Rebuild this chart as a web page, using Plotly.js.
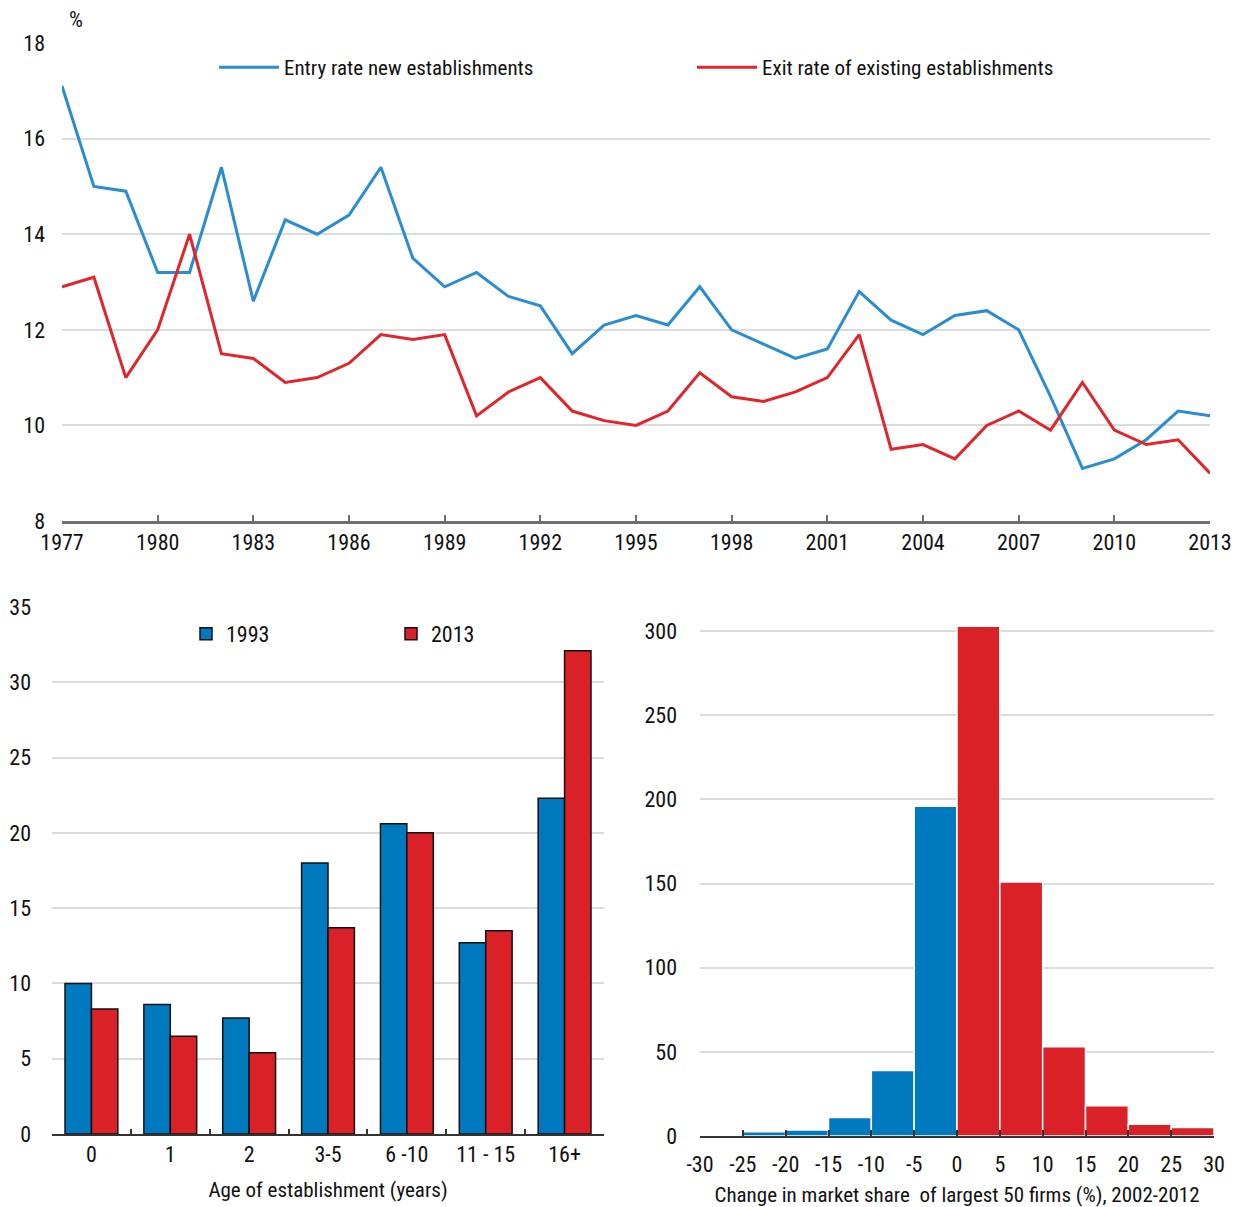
<!DOCTYPE html>
<html>
<head>
<meta charset="utf-8">
<script src="https://cdn.plot.ly/plotly-3.0.1.min.js"></script>
<style>html,body{margin:0;padding:0;background:#fff;}#chart{width:1241px;height:1207px;}</style>
</head>
<body>
<div id="chart"></div>
<script>
// Top panel: entry and exit rates (%)
const years = [1977,1978,1979,1980,1981,1982,1983,1984,1985,1986,1987,1988,1989,1990,1991,1992,1993,1994,1995,1996,1997,1998,1999,2000,2001,2002,2003,2004,2005,2006,2007,2008,2009,2010,2011,2012,2013];
const entryRate = [17.1,15.0,14.9,13.2,13.2,15.4,12.6,14.3,14.0,14.4,15.4,13.5,12.9,13.2,12.7,12.5,11.5,12.1,12.3,12.1,12.9,12.0,11.7,11.4,11.6,12.8,12.2,11.9,12.3,12.4,12.0,10.6,9.1,9.3,9.7,10.3,10.2];
const exitRate = [12.9,13.1,11.0,12.0,14.0,11.5,11.4,10.9,11.0,11.3,11.9,11.8,11.9,10.2,10.7,11.0,10.3,10.1,10.0,10.3,11.1,10.6,10.5,10.7,11.0,11.9,9.5,9.6,9.3,10.0,10.3,9.9,10.9,9.9,9.6,9.7,9.0];

// Bottom-left panel: share by age of establishment
const ageCategories = ['0','1','2','3-5','6 -10','11 - 15','16+'];
const share1993 = [10.0,8.6,7.7,18.0,20.6,12.7,22.3];
const share2013 = [8.3,6.5,5.4,13.7,20.0,13.5,32.1];

// Bottom-right panel: histogram of change in market share
const binStart = [-30,-25,-20,-15,-10,-5,0,5,10,15,20,25];
const binCount = [0,2.5,3.5,11,39,196,303,151,53,18,7,5];
const histTicks = [-30,-25,-20,-15,-10,-5,0,5,10,15,20,25,30];

const FONT = '"Roboto Condensed", "DejaVu Sans Condensed", sans-serif';
const BLUE_LINE = '#2a8dd0', RED_LINE = '#e0252d';
const BLUE = '#0079be', RED = '#da2128';
const GRID = '#dcdcdc', AXIS = '#6e6e6e';
const W = 1241, H = 1207;
const fx = p => p / W, fy = p => 1 - p / H;

const binWidth = 5;
const binCenters = binStart.map(s => s + binWidth / 2);
const binColors = binStart.map(s => s < 0 ? BLUE : RED);

const traces = [
  {x: years, y: entryRate, type: 'scatter', mode: 'lines', name: 'Entry rate new establishments',
   line: {color: BLUE_LINE, width: 3}, xaxis: 'x', yaxis: 'y', legend: 'legend'},
  {x: years, y: exitRate, type: 'scatter', mode: 'lines', name: 'Exit rate of existing establishments',
   line: {color: RED_LINE, width: 3}, xaxis: 'x', yaxis: 'y', legend: 'legend'},
  {x: ageCategories, y: share1993, type: 'bar', name: '1993',
   marker: {color: BLUE, line: {color: '#111', width: 1.5}}, xaxis: 'x2', yaxis: 'y2', legend: 'legend2'},
  {x: ageCategories, y: share2013, type: 'bar', name: '2013',
   marker: {color: RED, line: {color: '#111', width: 1.5}}, xaxis: 'x2', yaxis: 'y2', legend: 'legend2'},
  {x: binCenters, y: binCount, width: binStart.map(() => binWidth), type: 'bar', showlegend: false,
   marker: {color: binColors, line: {color: '#fff', width: 1.5}}, xaxis: 'x3', yaxis: 'y3'}
];

const tickFont = {family: FONT, size: 22, color: '#111'};
const titleFont = {family: FONT, size: 21, color: '#111'};

const layout = {
  width: W, height: H,
  margin: {l: 0, r: 0, t: 0, b: 0},
  paper_bgcolor: '#fff', plot_bgcolor: '#fff',
  font: {family: FONT, size: 22, color: '#111'},
  barmode: 'group', bargap: 0.33, bargroupgap: 0,
  showlegend: true,
  xaxis: {domain: [fx(62), fx(1210)], range: [1977, 2013], tickmode: 'linear', tick0: 1977, dtick: 3,
    ticks: 'inside', ticklen: 6, tickwidth: 2, tickcolor: AXIS, showline: true, linecolor: AXIS, linewidth: 3,
    showgrid: false, zeroline: false, tickfont: tickFont, tickangle: 0, anchor: 'y'},
  yaxis: {domain: [fy(521), fy(43)], range: [8, 18], dtick: 2, showgrid: true, gridcolor: GRID, gridwidth: 2,
    zeroline: false, showline: false, ticks: '', tickfont: tickFont, ticklabelstandoff: 16, anchor: 'x'},
  xaxis2: {domain: [fx(52), fx(604)], type: 'category', ticks: 'inside', tickson: 'boundaries', ticklen: 5,
    tickwidth: 2, tickcolor: '#333', showline: true, linecolor: '#333', linewidth: 2, showgrid: false,
    tickfont: tickFont, tickangle: 0, anchor: 'y2',
    title: {text: 'Age of establishment (years)', font: titleFont, standoff: 16}},
  yaxis2: {domain: [fy(1134), fy(607)], range: [0, 35], dtick: 5, showgrid: true, gridcolor: GRID, gridwidth: 2,
    zeroline: false, showline: false, ticks: '', tickfont: tickFont, ticklabelstandoff: 20, anchor: 'x2'},
  xaxis3: {domain: [fx(700), fx(1214)], range: [-30, 30], tickmode: 'array', tickvals: histTicks,
    ticktext: histTicks.map(String), ticklabelstandoff: 8,
    ticks: 'inside', ticklen: 6, tickwidth: 2, tickcolor: '#333', showline: true, linecolor: '#333', linewidth: 2,
    showgrid: false, zeroline: false, tickfont: tickFont, tickangle: 0, anchor: 'y3',
    title: {text: 'Change in market share  of largest 50 firms (%), 2002-2012', font: titleFont, standoff: 12}},
  yaxis3: {domain: [fy(1136), fy(606)], range: [0, 315], tickmode: 'linear', tick0: 0, dtick: 50,
    showgrid: true, gridcolor: GRID, gridwidth: 2, zeroline: false, showline: false, ticks: '',
    tickfont: tickFont, ticklabelstandoff: 22, anchor: 'x3'},
  legend: {orientation: 'h', x: fx(692), y: fy(47), xanchor: 'center', yanchor: 'top',
    entrywidth: 403, entrywidthmode: 'pixels', font: {family: FONT, size: 21, color: '#111'},
    bgcolor: 'rgba(0,0,0,0)', itemwidth: 60, tracegroupgap: 0},
  legend2: {orientation: 'h', x: fx(186), y: fy(613), xanchor: 'left', yanchor: 'top',
    entrywidth: 160, entrywidthmode: 'pixels', font: {family: FONT, size: 22, color: '#111'},
    bgcolor: 'rgba(0,0,0,0)', itemwidth: 30},
  annotations: [
    {text: '%', x: fx(76), y: fy(20), xref: 'paper', yref: 'paper', showarrow: false,
     font: {family: FONT, size: 22, color: '#111'}, xanchor: 'center', yanchor: 'middle'}
  ]
};

Plotly.newPlot('chart', traces, layout, {displayModeBar: false, staticPlot: true});
</script>
</body>
</html>
